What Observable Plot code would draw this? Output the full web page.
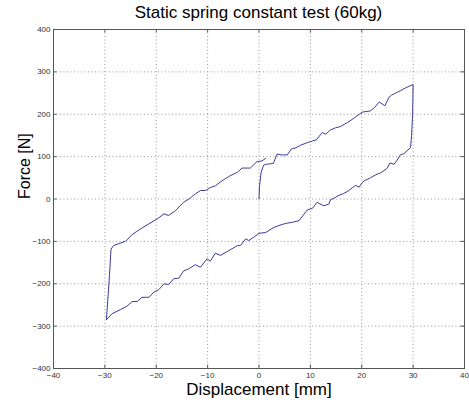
<!DOCTYPE html>
<html>
<head>
<meta charset="utf-8">
<script src="https://cdn.jsdelivr.net/npm/d3@7"></script>
<script src="https://cdn.jsdelivr.net/npm/@observablehq/plot@0.6"></script>
<style>
  body { margin: 0; background: #fff; font-family: "Liberation Sans", Arial, sans-serif; }
  #title { width: 421px; padding-left: 48px; height: 22px; line-height: 26px; text-align: center; font-size: 17px; color: #000; white-space: nowrap; }
</style>
</head>
<body>
<div id="title">Static spring constant test (60kg)</div>
<div id="chart"></div>
<script>
const titleText = "Static spring constant test (60kg)";
const xLabel = "Displacement [mm]";
const yLabel = "Force [N]";
const xTicks = [-40, -30, -20, -10, 0, 10, 20, 30, 40];
const yTicks = [-400, -300, -200, -100, 0, 100, 200, 300, 400];

const displacement = [
  0, 0.1, 0.4, 0.9, 1.5, 2.1, 2.8, 3.5, 4.5, 5.5, 6.3, 7.2, 8.1, 9.4, 10.4, 11.2, 12.3, 13, 13.9, 14.9, 15.9, 16.7, 17.2, 18.5, 19.3, 20.1, 21.7, 22.5, 23.4, 24.5, 25.3, 25.8, 26.6, 27.6, 28.5, 29.4, 30,
  29.9, 29.7, 29.5,
  29.2, 28.2, 27.5, 26.9, 26.3, 25.5, 24.9, 23.7, 22.7, 21.7, 20.5, 20.1, 19.5, 18.8, 18.2, 17.5, 16.5, 15.6, 14.6, 13.9, 13.6, 12.6, 11.3, 10.4, 9.4, 8.5, 7.8, 6.5, 5.5, 4.5, 2.9, 1.3, 0, -1, -2, -2.6, -3.6, -4.2, -5.9, -7.5, -8.5, -9.5, -10.1, -11.4, -12.4, -13.7, -14.7, -15.6, -16.6, -17.6, -18.5, -19.5, -20.5, -21.4, -22.8, -23.7, -24.7, -25.7, -27, -28.6, -29.7,
  -29.5, -29.1, -28.8, -28.3, -27, -26, -24.7, -23.1, -21.5, -19.8, -18.5, -17.6, -16.3, -14.7, -13.4, -12.4, -11.4, -10.4, -9.5, -8.5, -7.2, -5.6, -4.2, -3.3, -1.7, -0.4, 0.6, 1.3
];
const force = [
  0, 30, 62, 80, 82, 83, 84, 106, 104, 104, 118, 121, 127, 133, 137, 140, 157, 153, 163, 168, 171, 177, 180, 191, 198, 205, 208, 216, 229, 220, 240, 245, 250, 256, 262, 267, 270,
  200, 150, 122,
  118, 107, 104, 92, 82, 85, 72, 62, 57, 50, 43, 39, 28, 32, 27, 20, 13, 9, 2, -2, -12, -16, -8, -22, -26, -40, -51, -55, -57, -60, -67, -79, -81, -90, -98, -94, -110, -110, -122, -133, -128, -147, -141, -161, -155, -165, -170, -187, -188, -202, -200, -214, -220, -232, -232, -242, -242, -253, -261, -271, -285,
  -250, -180, -118, -110, -104, -100, -84, -71, -59, -47, -35, -39, -28, -8, 2, 12, 20, 20, 27, 31, 43, 55, 63, 73, 73, 88, 90, 96
];

const data = displacement.map((d, i) => ({x: d, y: force[i]}));
document.getElementById("title").textContent = titleText;

const chart = Plot.plot({
  width: 469,
  height: 383,
  marginTop: 7,
  marginBottom: 37,
  marginLeft: 53,
  marginRight: 5,
  style: {fontFamily: "'Liberation Sans', Arial, sans-serif", background: "#fff", color: "#222"},
  x: {domain: [-40, 40]},
  y: {domain: [-400, 400]},
  marks: [
    Plot.gridX(xTicks, {stroke: "#999", strokeOpacity: 1, strokeDasharray: "1,2.5"}),
    Plot.gridY(yTicks, {stroke: "#999", strokeOpacity: 1, strokeDasharray: "1,2.5"}),
    Plot.axisX(xTicks, {tickSize: 0, tickPadding: 4, fontSize: 8, label: null, color: "#333"}),
    Plot.axisY(yTicks, {tickSize: 0, tickPadding: 3, fontSize: 8, label: null, color: "#333"}),
    Plot.ruleX(xTicks, {y1: -400, y2: -392, stroke: "#555"}),
    Plot.ruleX(xTicks, {y1: 400, y2: 392, stroke: "#555"}),
    Plot.ruleY(yTicks, {x1: -40, x2: -39.3, stroke: "#555"}),
    Plot.ruleY(yTicks, {x1: 40, x2: 39.3, stroke: "#555"}),
    Plot.line(data, {x: "x", y: "y", stroke: "#3c3c9c", strokeWidth: 1, curve: "linear"}),
    Plot.frame({stroke: "#555"}),
    Plot.text([xLabel], {frameAnchor: "bottom", dy: 26, lineAnchor: "bottom", fontSize: 17, fill: "#000"}),
    Plot.text([yLabel], {frameAnchor: "left", dx: -24, rotate: -90, lineAnchor: "bottom", fontSize: 16, fill: "#000"})
  ]
});
document.getElementById("chart").appendChild(chart);
</script>
</body>
</html>
